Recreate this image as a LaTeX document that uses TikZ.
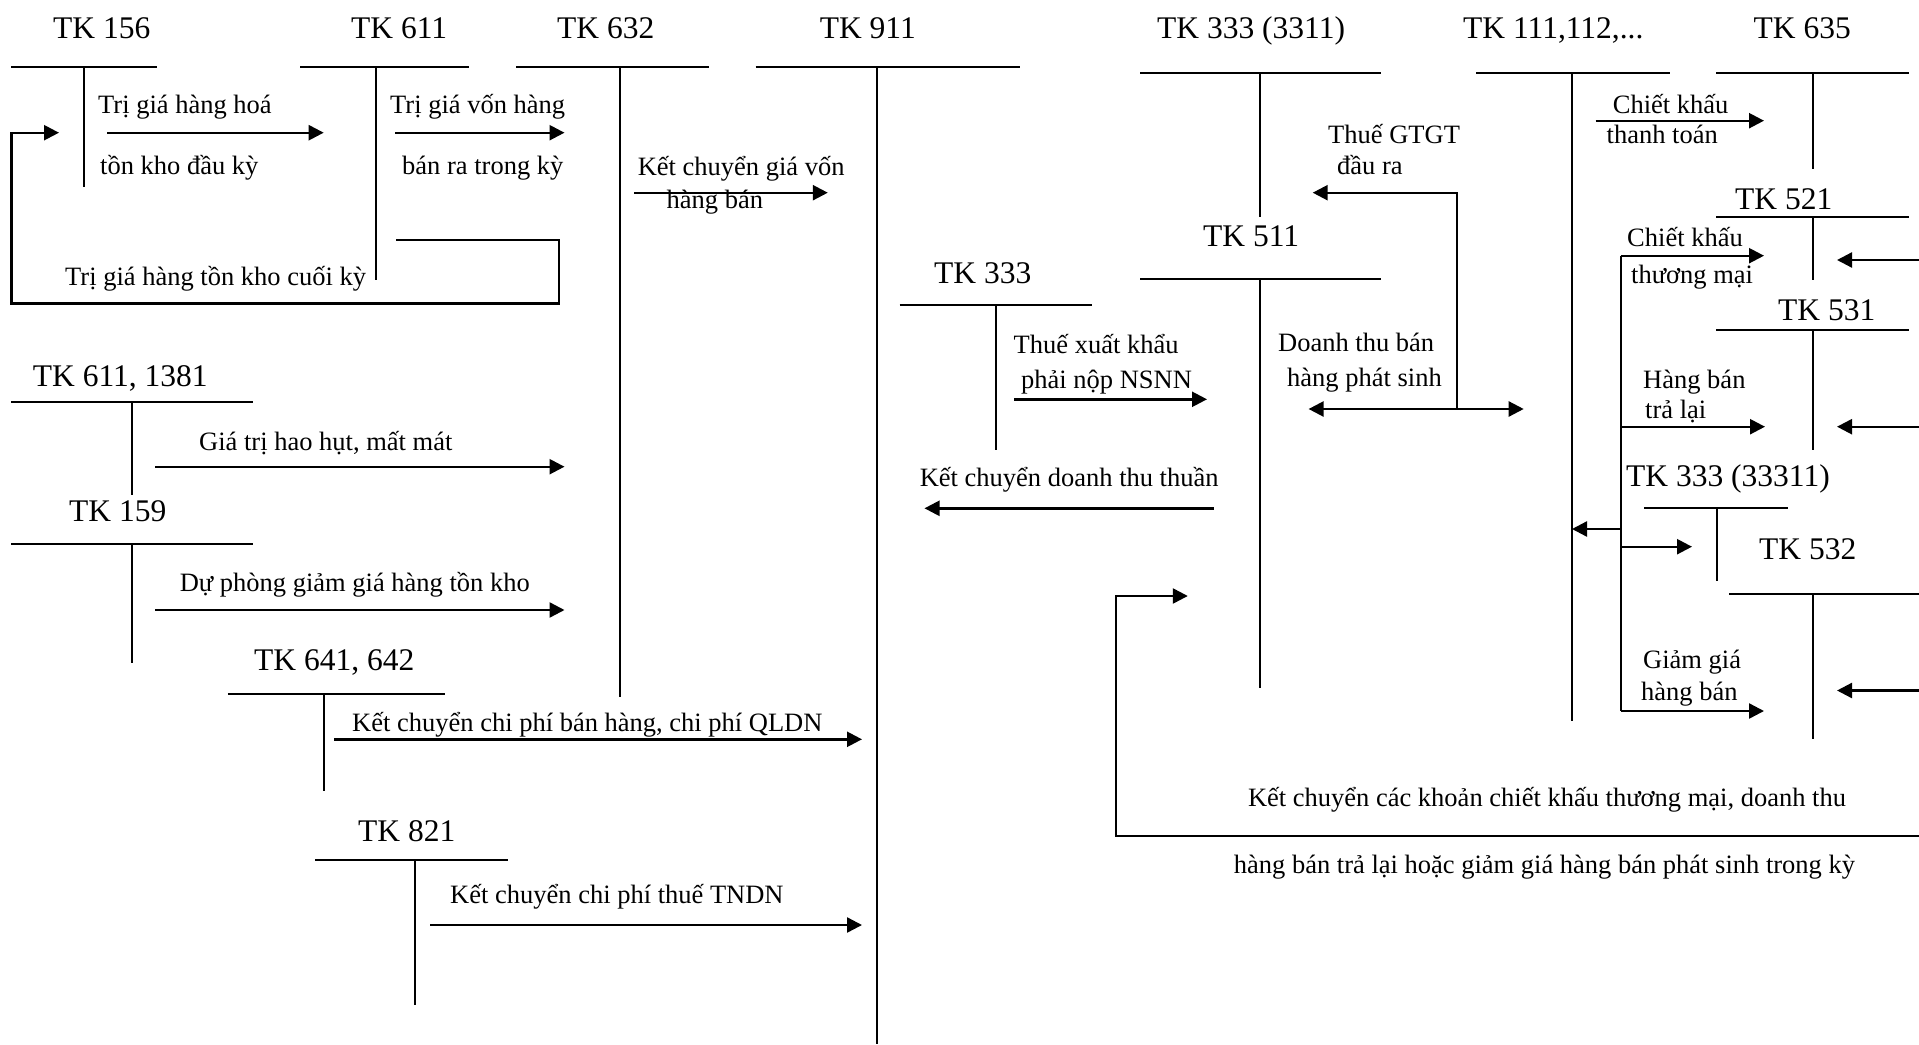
\documentclass[tikz,border=0pt]{standalone}
\usepackage{fontspec}
\setmainfont{Liberation Serif}
\usetikzlibrary{arrows.meta}

\tikzset{
  acct/.style={line width=2pt},
  flow/.style={line width=2.4pt, -{Triangle[length=15pt,width=15pt]}},
  twoway/.style={line width=2.4pt, {Triangle[length=15pt,width=15pt]}-{Triangle[length=15pt,width=15pt]}},
  link/.style={line width=2.4pt},
  tk/.style={inner sep=0pt, anchor=base west, font=\fontsize{31.5}{36}\selectfont},
  lbl/.style={inner sep=0pt, anchor=base west, font=\fontsize{26.5}{30}\selectfont},
}

% T-account: name, left, right, y of the bar, x of the stem, lower end of the stem
\newcommand\tacct[6]{%
  \coordinate (#1-l) at (#2,#4);
  \coordinate (#1-r) at (#3,#4);
  \coordinate (#1-t) at (#5,#4);
  \coordinate (#1-b) at (#5,#6);
  \draw[acct] (#1-l) -- (#1-r);
  \draw[acct] (#1-t) -- (#1-b);
}

\begin{document}
\begin{tikzpicture}[x=1pt,y=-1pt]
\useasboundingbox (0,0) rectangle (1919,1044);

% ---------- account titles ----------
\node[tk] (t156)  at (53,38)    {TK 156};
\node[tk] (t611)  at (351,38)   {TK 611};
\node[tk] (t632)  at (557,38)   {TK 632};
\node[tk] (t911)  at (819.6,38) {TK 911};
\node[tk] (t3311) at (1157,38)  {TK 333 (3311)};
\node[tk] (t111)  at (1463,38)  {TK 111,112,...};
\node[tk] (t635)  at (1753.5,38){TK 635};
\node[tk] (t521)  at (1735,209) {TK 521};
\node[tk] (t511)  at (1203,246.7) {TK 511};
\node[tk] (t333)  at (934,283.3)  {TK 333};
\node[tk] (t531)  at (1778,320)   {TK 531};
\node[tk] (t33311) at (1626,486.7) {TK 333 (33311)};
\node[tk] (t532)  at (1759,559)   {TK 532};
\node[tk] (t6111381) at (32.7,386.7) {TK 611, 1381};
\node[tk] (t159)  at (69,521.7)   {TK 159};
\node[tk] (t641)  at (254,670)    {TK 641, 642};
\node[tk] (t821)  at (358,841)    {TK 821};

% ---------- T-accounts ----------
\tacct{a156}{11}{157}{66.7}{83.7}{186.7}
\tacct{a611}{300}{469}{66.7}{376.3}{280}
\tacct{a632}{516.3}{708.6}{66.7}{620.4}{697.3}
\tacct{a911}{755.5}{1020.4}{66.7}{877}{1044}
\tacct{a3311}{1140}{1381}{72.7}{1260.4}{217}
\tacct{a111}{1476}{1670}{72.7}{1572}{721}
\tacct{a635}{1716}{1908.6}{72.7}{1812.7}{169.3}
\tacct{a521}{1716}{1908.6}{216.7}{1812.7}{280}
\tacct{a511}{1140}{1381}{279.3}{1260.4}{688}
\tacct{a333}{899.6}{1092}{305.3}{996.3}{450}
\tacct{a531}{1716}{1908.6}{330}{1812.7}{450}
\tacct{a33311}{1644}{1788}{508.3}{1716.5}{580.5}
\tacct{a532}{1729}{1919}{594.3}{1812.5}{738.5}
\tacct{a6111381}{11.4}{253}{401.7}{131.8}{495}
\tacct{a159}{11.4}{253}{544}{131.8}{663.3}
\tacct{a641}{227.8}{444.6}{694.3}{324}{791}
\tacct{a821}{315.4}{508.3}{860}{414.6}{1005}

% ---------- flow labels ----------
\node[lbl] (l1a) at (98,113)     {Trị giá hàng hoá};
\node[lbl] (l1b) at (100,174)    {tồn kho đầu kỳ};
\node[lbl] (l2a) at (390,113)    {Trị giá vốn hàng};
\node[lbl] (l2b) at (402,174)    {bán ra trong kỳ};
\node[lbl] (l3a) at (637.6,175)  {Kết chuyển giá vốn};
\node[lbl] (l3b) at (666.5,208)  {hàng bán};
\node[lbl] (l4)  at (65,285)     {Trị giá hàng tồn kho cuối kỳ};
\node[lbl] (l5a) at (1328,143)   {Thuế GTGT};
\node[lbl] (l5b) at (1337,174)   {đầu ra};
\node[lbl] (l6a) at (1612.7,113) {Chiết khấu};
\node[lbl] (l6b) at (1606.5,143) {thanh toán};
\node[lbl] (l7a) at (1627,246.7) {Chiết khấu};
\node[lbl] (l7b) at (1631,283)   {thương mại};
\node[lbl] (l8a) at (1013.5,353) {Thuế xuất khẩu};
\node[lbl] (l8b) at (1021,388)   {phải nộp NSNN};
\node[lbl] (l9a) at (1278,351.7) {Doanh thu bán};
\node[lbl] (l9b) at (1287,386.7) {hàng phát sinh};
\node[lbl] (l10a) at (1643,388)  {Hàng bán};
\node[lbl] (l10b) at (1645,418)  {trả lại};
\node[lbl] (l11) at (919.6,486.7){Kết chuyển doanh thu thuần};
\node[lbl] (l12a) at (1643,668)  {Giảm giá};
\node[lbl] (l12b) at (1641,700)  {hàng bán};
\node[lbl] (l13) at (199,450)    {Giá trị hao hụt, mất mát};
\node[lbl] (l14) at (179.6,591.7){Dự phòng giảm giá hàng tồn kho};
\node[lbl] (l15) at (352,731.7)  {Kết chuyển chi phí bán hàng, chi phí QLDN};
\node[lbl] (l16) at (450,903.3)  {Kết chuyển chi phí thuế TNDN};
\node[lbl] (l17a) at (1247.8,806.7) {Kết chuyển các khoản chiết khấu thương mại, doanh thu};
\node[lbl] (l17b) at (1233.7,873)   {hàng bán trả lại hoặc giảm giá hàng bán phát sinh trong kỳ};

% ---------- flow end points ----------
\coordinate (f1s) at (107,132.7);   \coordinate (f1e) at (323.7,132.7);
\coordinate (f2s) at (395,132.7);   \coordinate (f2e) at (564.5,132.7);
\coordinate (r1) at (396,240);      \coordinate (r2) at (559,240);
\coordinate (r3) at (559,303.3);    \coordinate (r4) at (11.4,303.3);
\coordinate (r5) at (11.4,132.7);   \coordinate (r6) at (59,132.7);
\coordinate (f3s) at (634,192.7);   \coordinate (f3e) at (827.8,192.7);
\coordinate (v1) at (1456.7,409);   \coordinate (v2) at (1456.7,192.7);
\coordinate (v3) at (1312.7,192.7);
\coordinate (d1) at (1308.6,409);   \coordinate (d2) at (1523.7,409);
\coordinate (f6s) at (1595.5,120.7);\coordinate (f6e) at (1764,120.7);
\coordinate (k0) at (1620.8,711);   \coordinate (k1) at (1620.8,255.7);
\coordinate (k1e) at (1764,255.7);
\coordinate (k2) at (1620.8,426.7); \coordinate (k2e) at (1765,426.7);
\coordinate (k3) at (1620.8,529);   \coordinate (k3e) at (1572,529);
\coordinate (k4) at (1620.8,546.7); \coordinate (k4e) at (1692,546.7);
\coordinate (k5e) at (1764,711);
\coordinate (e1) at (1919,260);     \coordinate (e1e) at (1837,260);
\coordinate (e2) at (1919,426.7);   \coordinate (e2e) at (1837,426.7);
\coordinate (e3) at (1919,690.5);   \coordinate (e3e) at (1837,690.5);
\coordinate (f8s) at (1014,399.3);  \coordinate (f8e) at (1207,399.3);
\coordinate (f11s) at (1213.5,508.3); \coordinate (f11e) at (924.5,508.3);
\coordinate (b1) at (1919,836);     \coordinate (b2) at (1116,836);
\coordinate (b3) at (1116,596);     \coordinate (b4) at (1187.8,596);
\coordinate (f13s) at (155,466.7);  \coordinate (f13e) at (564.5,466.7);
\coordinate (f14s) at (155,610);    \coordinate (f14e) at (564.5,610);
\coordinate (f15s) at (334.4,739.3);\coordinate (f15e) at (862,739.3);
\coordinate (f16s) at (430,925);    \coordinate (f16e) at (862,925);

% ---------- flows ----------
\draw[flow] (f1s) -- (f1e);
\draw[flow] (f2s) -- (f2e);
\draw[flow] (r1) -- (r2) -- (r3) -- (r4) -- (r5) -- (r6);
\draw[flow] (f3s) -- (f3e);
\draw[flow] (v1) -- (v2) -- (v3);
\draw[twoway] (d1) -- (d2);
\draw[flow] (f6s) -- (f6e);
\draw[link] (k0) -- (k1);
\draw[flow] (k1) -- (k1e);
\draw[flow] (k2) -- (k2e);
\draw[flow] (k3) -- (k3e);
\draw[flow] (k4) -- (k4e);
\draw[flow] (k0) -- (k5e);
\draw[flow] (e1) -- (e1e);
\draw[flow] (e2) -- (e2e);
\draw[flow] (e3) -- (e3e);
\draw[flow] (f8s) -- (f8e);
\draw[flow] (f11s) -- (f11e);
\draw[flow] (b1) -- (b2) -- (b3) -- (b4);
\draw[flow] (f13s) -- (f13e);
\draw[flow] (f14s) -- (f14e);
\draw[flow] (f15s) -- (f15e);
\draw[flow] (f16s) -- (f16e);
\end{tikzpicture}
\end{document}
